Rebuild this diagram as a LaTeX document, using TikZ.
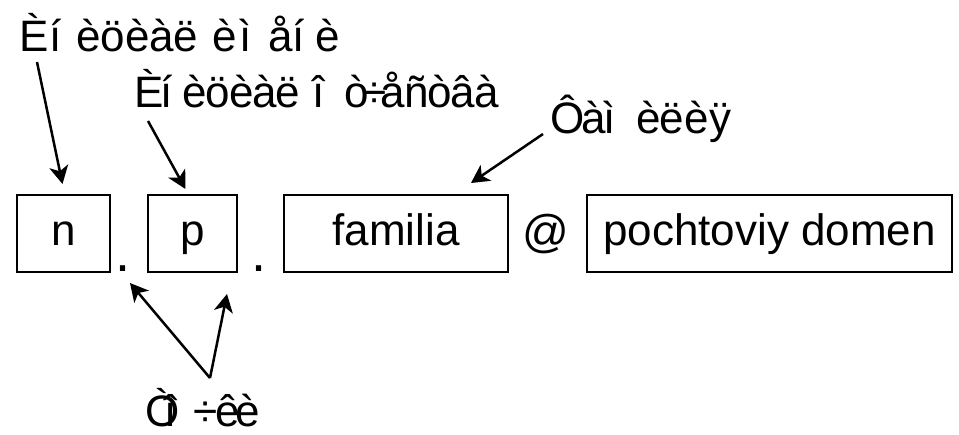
\documentclass[tikz,border=0pt]{standalone}
\usepackage{fontspec}
\setmainfont{Liberation Sans}
\usetikzlibrary{arrows.meta}
% one glyph set in a box of fixed advance
\newcommand\gl[2]{\makebox[#1pt][l]{#2}}

\begin{document}
\begin{tikzpicture}[x=1pt,y=-1pt,
  txt/.style={font=\fontsize{44}{50}\selectfont},
  field/.style={txt,draw,line width=2pt,minimum height=77pt,inner sep=0pt,
    text height=32pt,text depth=8pt},
  sep/.style={inner sep=0pt,anchor=base,font=\fontsize{46}{52}\selectfont},
  dotsym/.style={inner sep=0pt,anchor=base,font=\fontsize{54}{60}\selectfont},
  label/.style={txt,inner sep=0pt,anchor=base west,text depth=0pt},
  ptr/.style={line width=2.5pt,-{Stealth[length=18pt,width=19pt,inset=5pt]}}]
\useasboundingbox (0,0) rectangle (959,434);

% address fields
\node[field,minimum width=93pt]  (bn) at (63.5,233.5) {n};
\node[field,minimum width=89pt]  (bp) at (192.5,233.5) {p};
\node[field,minimum width=224pt] (bf) at (396,233.5) {familia};
\node[field,minimum width=365pt] (bd) at (769.5,233.5) {pochtoviy domen};
\node[sep] (at) at (546,247) {@};
\node[dotsym] (d1) at (123,271) {.};
\node[dotsym] (d2) at (259,271) {.};

% captions
\node[label] (l1) at (19,51) {\gl{30}{È}\gl{27}{í}\gl{24}{è}\gl{25}{ö}\gl{24}{è}\gl{24}{à}\gl{39}{ë}\gl{27}{è}\gl{29}{ì}\gl{24}{å}\gl{23}{í}\gl{20}{è}};
\node[label] (l2) at (134,107) {\gl{26}{È}\gl{22}{í}\gl{23}{è}\gl{24}{ö}\gl{23}{è}\gl{23}{à}\gl{37}{ë}\gl{32}{î}\gl{18}{ò}\gl{18}{÷}\gl{24}{å}\gl{23}{ñ}\gl{23}{ò}\gl{24}{â}\gl{20}{à}};
\node[label] (l3) at (550,133) {\gl{31}{Ô}\gl{22}{à}\gl{33}{ì}\gl{23}{è}\gl{25}{ë}\gl{25}{è}\gl{20}{ÿ}};
\node[label] (l4) at (145,426) {\gl{19}{Ò}\gl{29}{î}\gl{22}{÷}\gl{20}{ê}\gl{20}{è}};

% pointers
\coordinate (s1) at (37,62);
\coordinate (s2) at (148,121);
\coordinate (s3) at (543,134);
\coordinate (s4) at (210,378);
\draw[ptr] (s1) -- ([xshift=-1pt,yshift=10pt]bn.north);
\draw[ptr] (s2) -- ([xshift=-7pt,yshift=5pt]bp.north);
\draw[ptr] (s3) -- ([xshift=-38pt,yshift=11pt]bf.north east);
\draw[ptr] (s4) -- ([xshift=7pt,yshift=-12pt]d1.base);
\draw[ptr] (s4) -- ([xshift=-11pt,yshift=-21pt]bp.south east);
\end{tikzpicture}
\end{document}
